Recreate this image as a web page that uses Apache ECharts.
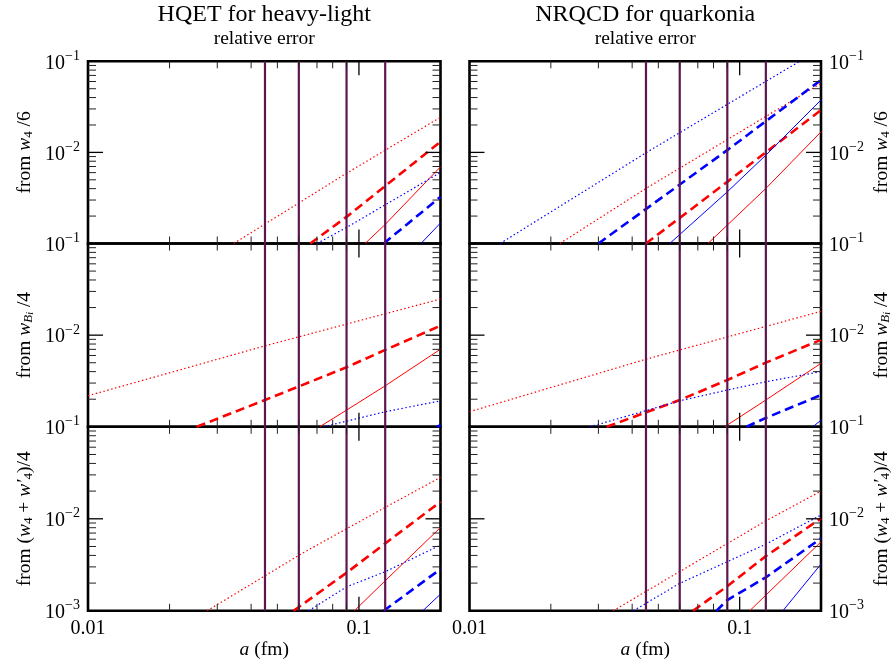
<!DOCTYPE html>
<html>
<head>
<meta charset="utf-8">
<script src="https://cdn.jsdelivr.net/npm/echarts@6/dist/echarts.min.js"></script>
<style>html,body{margin:0;padding:0;background:#fff}#c{width:893px;height:665px}</style>
</head>
<body>
<div id="c"></div>
<script>
// ---------- DATA (a in fm, relative error) ----------
// HQET heavy-light, from w4/6
const HL_W4_RED_DOT    = [[0.0345, 0.001], [0.09, 0.0059], [0.2, 0.0243]];
const HL_W4_RED_DASH   = [[0.0661, 0.001], [0.09, 0.00196], [0.125, 0.00427], [0.2, 0.0131]];
const HL_W4_RED_SOLID  = [[0.1054, 0.001], [0.125, 0.00162], [0.2, 0.00695]];
const HL_W4_BLUE_DOT   = [[0.070, 0.001], [0.09, 0.00150], [0.2, 0.00602]];
const HL_W4_BLUE_DASH  = [[0.1234, 0.001], [0.2, 0.00325]];
const HL_W4_BLUE_SOLID = [[0.1694, 0.001], [0.2, 0.00168]];
// HQET heavy-light, from w_Bi/4
const HL_WB_RED_DOT    = [[0.01, 0.00218], [0.045, 0.00764], [0.2, 0.0248]];
const HL_WB_RED_DASH   = [[0.0252, 0.001], [0.045, 0.00196], [0.09, 0.00446], [0.125, 0.0069], [0.2, 0.0127]];
const HL_WB_RED_SOLID  = [[0.0716, 0.001], [0.09, 0.00152], [0.125, 0.0028], [0.2, 0.00703]];
const HL_WB_BLUE_DOT   = [[0.074, 0.001], [0.125, 0.00146], [0.2, 0.00192]];
const HL_WB_BLUE_DASH  = [[0.194, 0.001], [0.2, 0.00104]];
// HQET heavy-light, from (w4 + w4')/4
const HL_WW_RED_DOT    = [[0.0275, 0.001], [0.0617, 0.00421], [0.125, 0.0133], [0.2, 0.0282]];
const HL_WW_RED_DASH   = [[0.0574, 0.001], [0.09, 0.00259], [0.125, 0.0054], [0.2, 0.0153]];
const HL_WW_RED_SOLID  = [[0.0962, 0.001], [0.125, 0.00212], [0.2, 0.00805]];
const HL_WW_BLUE_DOT   = [[0.0652, 0.001], [0.09, 0.00182], [0.125, 0.00266], [0.2, 0.00518]];
const HL_WW_BLUE_DASH  = [[0.1234, 0.001], [0.2, 0.00284]];
const HL_WW_BLUE_SOLID = [[0.172, 0.001], [0.2, 0.00152]];
// NRQCD quarkonia, from w4/6
const QQ_W4_RED_DOT    = [[0.0216, 0.001], [0.045, 0.00402], [0.2, 0.0573]];
const QQ_W4_RED_DASH   = [[0.045, 0.001], [0.09, 0.00475], [0.2, 0.0292]];
const QQ_W4_RED_SOLID  = [[0.0763, 0.001], [0.125, 0.00402], [0.2, 0.0168]];
const QQ_W4_BLUE_DOT   = [[0.01298, 0.001], [0.045, 0.0099], [0.1667, 0.1]];
const QQ_W4_BLUE_DASH  = [[0.030, 0.001], [0.09, 0.0106], [0.2, 0.0624]];
const QQ_W4_BLUE_SOLID = [[0.0551, 0.001], [0.09, 0.00369], [0.125, 0.00933], [0.2, 0.0376]];
// NRQCD quarkonia, from w_Bi/4
const QQ_WB_RED_DOT    = [[0.01, 0.00146], [0.045, 0.00546], [0.2, 0.0182]];
const QQ_WB_RED_DASH   = [[0.0322, 0.001], [0.06, 0.00196], [0.09, 0.00324], [0.125, 0.00501], [0.2, 0.00889]];
const QQ_WB_RED_SOLID  = [[0.088, 0.001], [0.125, 0.00196], [0.2, 0.00493]];
const QQ_WB_BLUE_DOT   = [[0.0279, 0.001], [0.06, 0.00192], [0.09, 0.00252], [0.125, 0.0031], [0.2, 0.0040]];
const QQ_WB_BLUE_DASH  = [[0.106, 0.001], [0.125, 0.00125], [0.2, 0.00222]];
const QQ_WB_BLUE_SOLID = [[0.1866, 0.001], [0.2, 0.00118]];
// NRQCD quarkonia, from (w4 + w4')/4
const QQ_WW_RED_DOT    = [[0.034, 0.001], [0.125, 0.0095], [0.2, 0.0200]];
const QQ_WW_RED_DASH   = [[0.0672, 0.001], [0.09, 0.00185], [0.125, 0.00393], [0.2, 0.0101]];
const QQ_WW_RED_SOLID  = [[0.1089, 0.001], [0.125, 0.00148], [0.2, 0.00562]];
const QQ_WW_BLUE_DOT   = [[0.0404, 0.001], [0.06, 0.00199], [0.125, 0.0053], [0.2, 0.011]];
const QQ_WW_BLUE_DASH  = [[0.082, 0.001], [0.09, 0.00131], [0.125, 0.00231], [0.2, 0.00612]];
const QQ_WW_BLUE_SOLID = [[0.1445, 0.001], [0.2, 0.00322]];

// lattice spacings (vertical lines)
const LATTICE_SPACINGS = [0.045, 0.06, 0.09, 0.125];
// ticks
const X_MAJOR_TICKS = [0.1];
const X_MINOR_TICKS = [0.02, 0.03, 0.04, 0.05, 0.06, 0.07, 0.08, 0.09];
const Y_MAJOR_TICKS = [0.01];
const Y_MINOR_TICKS = [0.002, 0.003, 0.004, 0.005, 0.006, 0.007, 0.008, 0.009,
                       0.02, 0.03, 0.04, 0.05, 0.06, 0.07, 0.08, 0.09];
const TITLES = ['HQET for heavy-light', 'NRQCD for quarkonia'];
const SUBTITLE = 'relative error';
const Y_NAMES = [
  '{t|from }{i|w}{s|4}{t| /6}',
  '{t|from }{i|w}{si|B}{ss|i}{t| /4}',
  '{t|from (}{i|w}{s|4}{t| + }{i|w′}{s|4}{t|)/4}'
];
const X_NAME = '{i|a}{t| (fm)}';

// ---------- LAYOUT / STYLE ----------
const FONT = 'Liberation Serif';
const RED = '#ff0000', BLUE = '#0000ff', VCOL = '#5e1650';
const STY = {
  dot:   { width: 1.2, type: [1.5, 2.5] },
  dash:  { width: 2.6, type: [9, 5] },
  solid: { width: 1, type: 'solid' }
};
const COL_LEFT = [88, 469.5], COL_W = [352.5, 351.5];
const ROW_TOP = [61.3, 243.5, 426.8], ROW_H = [182.2, 183.3, 184];

const PANEL_LINES = [
  [[HL_W4_RED_DOT, RED, 'dot'], [HL_W4_RED_DASH, RED, 'dash'], [HL_W4_RED_SOLID, RED, 'solid'],
   [HL_W4_BLUE_DOT, BLUE, 'dot'], [HL_W4_BLUE_DASH, BLUE, 'dash'], [HL_W4_BLUE_SOLID, BLUE, 'solid']],
  [[QQ_W4_RED_DOT, RED, 'dot'], [QQ_W4_RED_DASH, RED, 'dash'], [QQ_W4_RED_SOLID, RED, 'solid'],
   [QQ_W4_BLUE_DOT, BLUE, 'dot'], [QQ_W4_BLUE_DASH, BLUE, 'dash'], [QQ_W4_BLUE_SOLID, BLUE, 'solid']],
  [[HL_WB_RED_DOT, RED, 'dot'], [HL_WB_RED_DASH, RED, 'dash'], [HL_WB_RED_SOLID, RED, 'solid'],
   [HL_WB_BLUE_DOT, BLUE, 'dot'], [HL_WB_BLUE_DASH, BLUE, 'dash']],
  [[QQ_WB_RED_DOT, RED, 'dot'], [QQ_WB_RED_DASH, RED, 'dash'], [QQ_WB_RED_SOLID, RED, 'solid'],
   [QQ_WB_BLUE_DOT, BLUE, 'dot'], [QQ_WB_BLUE_DASH, BLUE, 'dash'], [QQ_WB_BLUE_SOLID, BLUE, 'solid']],
  [[HL_WW_RED_DOT, RED, 'dot'], [HL_WW_RED_DASH, RED, 'dash'], [HL_WW_RED_SOLID, RED, 'solid'],
   [HL_WW_BLUE_DOT, BLUE, 'dot'], [HL_WW_BLUE_DASH, BLUE, 'dash'], [HL_WW_BLUE_SOLID, BLUE, 'solid']],
  [[QQ_WW_RED_DOT, RED, 'dot'], [QQ_WW_RED_DASH, RED, 'dash'], [QQ_WW_RED_SOLID, RED, 'solid'],
   [QQ_WW_BLUE_DOT, BLUE, 'dot'], [QQ_WW_BLUE_DASH, BLUE, 'dash'], [QQ_WW_BLUE_SOLID, BLUE, 'solid']]
];

const NF = 19.5;
const nameRich = {
  t:  { fontFamily: FONT, fontSize: NF, color: '#000', verticalAlign: 'bottom', lineHeight: 27 },
  i:  { fontFamily: FONT, fontSize: NF, color: '#000', fontStyle: 'italic', verticalAlign: 'bottom', lineHeight: 27 },
  s:  { fontFamily: FONT, fontSize: 13, color: '#000', verticalAlign: 'bottom', lineHeight: 10 },
  si: { fontFamily: FONT, fontSize: 13, color: '#000', fontStyle: 'italic', verticalAlign: 'bottom', lineHeight: 10 },
  ss: { fontFamily: FONT, fontSize: 10, color: '#000', fontStyle: 'italic', verticalAlign: 'bottom', lineHeight: 4 }
};
const labelRich = {
  b: { fontFamily: FONT, fontSize: 20, color: '#000', verticalAlign: 'bottom', lineHeight: 24 },
  s: { fontFamily: FONT, fontSize: 14, color: '#000', verticalAlign: 'top', lineHeight: 13 }
};
function isPow10(v) { const l = Math.log10(v); return Math.abs(l - Math.round(l)) < 1e-6; }

const grid = [], xAxis = [], yAxis = [], series = [];
for (let gi = 0; gi < 6; gi++) {
  const col = gi % 2, row = Math.floor(gi / 2);
  grid.push({ left: COL_LEFT[col], top: ROW_TOP[row], width: COL_W[col], height: ROW_H[row],
    containLabel: false, outerBoundsMode: 'none',
    show: true, borderColor: '#000', borderWidth: 2.6, backgroundColor: 'transparent' });
  xAxis.push({
    type: 'log', logBase: 10, min: 0.01, max: 0.2, gridIndex: gi,
    axisLine: { show: false }, axisTick: { show: false }, splitLine: { show: false },
    axisLabel: {
      show: row === 2, margin: 8, fontFamily: FONT, fontSize: 20, color: '#000',
      formatter: v => (isPow10(v) ? (Math.round(Math.log10(v)) === -2 ? '0.01' : '0.1') : '')
    },
    name: row === 2 ? X_NAME : '', nameLocation: 'middle', nameGap: 21,
    nameTextStyle: { rich: nameRich }
  });
  yAxis.push({
    type: 'log', logBase: 10, min: 0.001, max: 0.1, gridIndex: gi,
    position: col === 0 ? 'left' : 'right',
    axisLine: { show: false }, axisTick: { show: false }, splitLine: { show: false },
    axisLabel: {
      margin: 8,
      formatter: v => {
        const e = Math.round(Math.log10(v));
        if (!isPow10(v) || (row < 2 && e === -3)) return '';
        return '{b|10}{s|−' + (-e) + '}';
      },
      rich: labelRich
    },
    name: Y_NAMES[row], nameLocation: 'middle', nameRotate: 90,
    nameGap: col === 0 ? 53 : 44,
    nameTextStyle: { rich: nameRich }
  });
  PANEL_LINES[gi].forEach(([data, color, sty]) => {
    series.push({
      type: 'line', xAxisIndex: gi, yAxisIndex: gi, data: data,
      showSymbol: false, symbol: 'none', clip: true, silent: true, z: 2,
      lineStyle: { color: color, width: STY[sty].width, type: STY[sty].type, cap: 'butt' }
    });
  });
  // vertical lattice-spacing lines
  LATTICE_SPACINGS.forEach(v => {
    series.push({
      type: 'line', xAxisIndex: gi, yAxisIndex: gi, data: [[v, 0.001], [v, 0.1]],
      showSymbol: false, symbol: 'none', clip: true, silent: true, z: 4,
      lineStyle: { color: VCOL, width: 2.2, type: 'solid' }
    });
  });
  // tick marks on all four sides
  const tdata = [];
  X_MAJOR_TICKS.forEach(v => tdata.push([v, 0.01, 0]));
  X_MINOR_TICKS.forEach(v => tdata.push([v, 0.01, 1]));
  Y_MAJOR_TICKS.forEach(v => tdata.push([0.05, v, 2]));
  Y_MINOR_TICKS.forEach(v => tdata.push([0.05, v, 3]));
  series.push({
    type: 'custom', xAxisIndex: gi, yAxisIndex: gi, data: tdata, clip: false, silent: true, z: 5,
    renderItem: function (params, api) {
      const k = api.value(2);
      const cs = params.coordSys;
      const st = { stroke: k % 2 === 0 ? '#000' : '#222', lineWidth: k % 2 === 0 ? 1.3 : 1 };
      if (k < 2) {
        const x = api.coord([api.value(0), 0.01])[0];
        const len = k === 0 ? 14 : 7;
        return { type: 'group', children: [
          { type: 'line', shape: { x1: x, y1: cs.y, x2: x, y2: cs.y + len }, style: st },
          { type: 'line', shape: { x1: x, y1: cs.y + cs.height, x2: x, y2: cs.y + cs.height - len }, style: st }
        ] };
      } else {
        const y = api.coord([0.05, api.value(1)])[1];
        const len = k === 2 ? 15 : 8;
        return { type: 'group', children: [
          { type: 'line', shape: { x1: cs.x, y1: y, x2: cs.x + len, y2: y }, style: st },
          { type: 'line', shape: { x1: cs.x + cs.width, y1: y, x2: cs.x + cs.width - len, y2: y }, style: st }
        ] };
      }
    }
  });
}

const graphic = [];
[0, 1].forEach(col => {
  const cx = COL_LEFT[col] + COL_W[col] / 2;
  graphic.push({ type: 'text', x: cx, y: 3, style: { text: TITLES[col], font: '24px "' + FONT + '"', fill: '#000', textAlign: 'center', textVerticalAlign: 'top' } });
  graphic.push({ type: 'text', x: cx, y: 29, style: { text: SUBTITLE, font: '19.5px "' + FONT + '"', fill: '#000', textAlign: 'center', textVerticalAlign: 'top' } });
});

const chart = echarts.init(document.getElementById('c'), null, { renderer: 'canvas' });
chart.setOption({ animation: false, backgroundColor: '#fff', grid, xAxis, yAxis, series, graphic });
</script>
</body>
</html>
